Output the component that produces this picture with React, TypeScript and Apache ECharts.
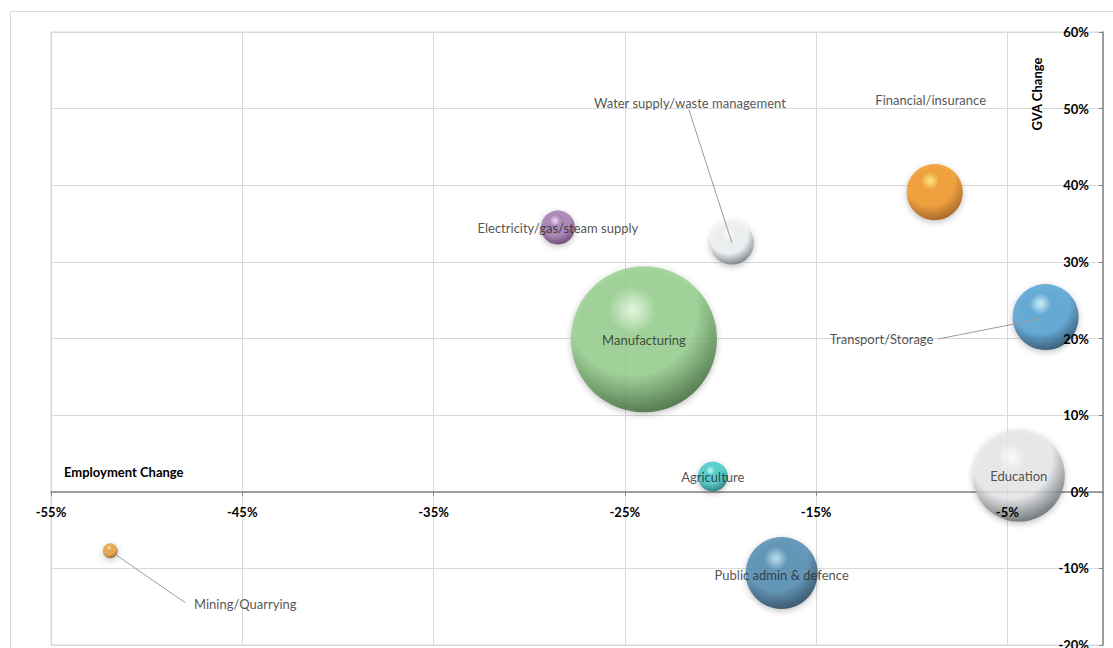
import React, { useEffect, useRef } from "react";
import * as echarts from "echarts";

// ---- data ----
const sectors = [
  "Mining/Quarrying",
  "Electricity/gas/steam supply",
  "Water supply/waste management",
  "Financial/insurance",
  "Manufacturing",
  "Transport/Storage",
  "Agriculture",
  "Education",
  "Public admin & defence",
];
const employmentChange = [-51.9, -28.5, -19.4, -8.8, -24.0, -3.0, -20.4, -4.4, -16.8];
const gvaChange = [-7.7, 34.5, 32.5, 39.1, 19.9, 22.8, 2.0, 2.1, -10.6];
const bubbleSize = [56, 290, 480, 790, 5330, 1090, 225, 2120, 1300];

const xMin = -55;
const xMax = 0;
const xStep = 10;
const yMin = -20;
const yMax = 60;
const yStep = 10;

// ---- styling / layout (not data) ----
const palette: [string, string, string][] = [
  ["#FFE9B5", "#E39B36", "#7E4A08"],
  ["#F3DEF8", "#A075AE", "#4A2756"],
  ["#FFFFFF", "#EEF1F3", "#5F6870"],
  ["#FFEA70", "#F2931D", "#8E4702"],
  ["#E6FADF", "#92CE8A", "#2F5A29"],
  ["#C8F3FF", "#4D9FD2", "#143956"],
  ["#C6FCF8", "#3CC6C6", "#0A5F5F"],
  ["#FFFFFF", "#E6E8EA", "#50555A"],
  ["#B6DFF5", "#4A87AF", "#13344C"],
];
// label centre offsets from bubble centre (px)
const labelOffsets: [number, number][] = [
  [135, 53],
  [0, 1],
  [-42, -140],
  [-4, -92],
  [0, 1],
  [-164, 22],
  [0, 1],
  [0, 0],
  [0, 2],
];
// leader lines: [startDx, startDy, endDx, endDy] relative to bubble centre, or null
const leaders: ([number, number, number, number] | null)[] = [
  [4, 3, 75, 52],
  null,
  [0, 0, -43, -133],
  null,
  null,
  [-6, 2, -108, 22],
  null,
  null,
  null,
];

const MAX_DIAM = 146;
const FONT = "Lato, 'Noto Sans', sans-serif";
const H = 648;
const GRID = { left: 51, right: 10, top: 32, bottom: 3 };

export default function App() {
  const ref = useRef<HTMLDivElement>(null);
  useEffect(() => {
    if (!ref.current) return;
    const chart = echarts.init(ref.current, undefined, { renderer: "svg" });
    const maxSize = Math.max(...bubbleSize);
    const shift = -xMin; // axis runs in shifted space so ticks start at -55

    // upper grid spans yMax..0 so its bottom edge sits on the zero line
    const plotH = H - GRID.top - GRID.bottom;
    const zeroY = GRID.top + (plotH * yMax) / (yMax - yMin);
    const upperBottom = H - zeroY;

    const data = sectors.map((name, i) => {
      const [hi, base, dark] = palette[i];
      return {
        name,
        value: [employmentChange[i] + shift, gvaChange[i], bubbleSize[i]],
        itemStyle: {
          color: new echarts.graphic.RadialGradient(0.42, 0.3, 0.74, [
            { offset: 0, color: hi },
            { offset: 0.22, color: base },
            { offset: 0.6, color: base },
            { offset: 1, color: dark },
          ]),
          shadowBlur: 6,
          shadowColor: "rgba(0,0,0,0.3)",
          shadowOffsetY: 2,
        },
      };
    });

    const leaderData = sectors.map((name, i) => ({
      name,
      value: [employmentChange[i] + shift, gvaChange[i], i],
    }));

    const labelFmt = (v: number) => `${Math.round(v - shift)}%`;
    const boldLabel = {
      color: "#000",
      fontWeight: "bold",
      fontSize: 13,
      fontFamily: FONT,
    };

    chart.setOption({
      animation: false,
      backgroundColor: "#ffffff",
      grid: [
        {
          ...GRID,
          show: true,
          borderColor: "#D9D9D9",
          borderWidth: 1,
          containLabel: false,
          outerBoundsMode: "none",
        },
        {
          left: GRID.left,
          right: GRID.right,
          top: GRID.top,
          bottom: upperBottom,
          show: false,
          containLabel: false,
          outerBoundsMode: "none",
        },
      ],
      xAxis: [
        {
          type: "value",
          gridIndex: 0,
          min: xMin + shift,
          max: xMax + shift,
          interval: xStep,
          position: "bottom",
          z: 0,
          axisLine: { onZero: true, lineStyle: { color: "#868686", width: 1.5 } },
          axisTick: { show: true, length: 4, lineStyle: { color: "#868686" } },
          axisLabel: { show: false },
          splitLine: { show: true, lineStyle: { color: "#D9D9D9", width: 1 } },
        },
        {
          type: "value",
          gridIndex: 1,
          min: xMin + shift,
          max: xMax + shift,
          interval: xStep,
          position: "bottom",
          z: 10,
          axisLine: { show: false, onZero: false },
          axisTick: { show: false },
          splitLine: { show: false },
          axisLabel: {
            show: true,
            showMaxLabel: false,
            margin: 14,
            formatter: labelFmt,
            ...boldLabel,
          },
        },
      ],
      yAxis: [
        {
          type: "value",
          gridIndex: 0,
          min: yMin,
          max: yMax,
          interval: yStep,
          position: "right",
          z: 0,
          axisLine: { show: true, onZero: false, lineStyle: { color: "#868686", width: 1.5 } },
          axisTick: { show: true, inside: true, length: 4, lineStyle: { color: "#868686" } },
          axisLabel: { show: false },
          splitLine: { show: true, lineStyle: { color: "#D9D9D9", width: 1 } },
        },
        {
          type: "value",
          gridIndex: 0,
          min: yMin,
          max: yMax,
          interval: yStep,
          position: "right",
          z: 10,
          axisLine: { show: false, onZero: false },
          axisTick: { show: false },
          splitLine: { show: false },
          axisLabel: {
            show: true,
            inside: true,
            margin: 14,
            formatter: (v: number) => `${v}%`,
            ...boldLabel,
          },
        },
        {
          type: "value",
          gridIndex: 1,
          min: 0,
          max: yMax,
          show: false,
        },
      ],
      graphic: [
        {
          type: "rect",
          silent: true,
          z: -10,
          shape: { x: 10.5, y: 11.5, width: 1200, height: 700 },
          style: { fill: "none", stroke: "#D9D9D9", lineWidth: 1 },
        },
        {
          type: "text",
          left: 64,
          top: 465,
          z: 10,
          style: {
            text: "Employment Change",
            fill: "#000",
            font: `bold 13px ${FONT}`,
          },
        },
        {
          type: "text",
          x: 1037,
          y: 94,
          rotation: Math.PI / 2,
          z: 10,
          style: {
            text: "GVA Change",
            fill: "#000",
            font: `bold 13px ${FONT}`,
            align: "center",
            verticalAlign: "middle",
          },
        },
      ],
      series: [
        {
          type: "scatter",
          xAxisIndex: 0,
          yAxisIndex: 0,
          z: 5,
          symbol: "circle",
          symbolSize: (val: number[]) => MAX_DIAM * Math.sqrt(val[2] / maxSize),
          data,
          label: {
            show: true,
            position: "inside",
            formatter: "{b}",
            color: "#262626",
            fontSize: 13,
            fontFamily: FONT,
          },
          labelLayout: (params: any) => {
            const o = labelOffsets[params.dataIndex] || [0, 0];
            return { dx: o[0], dy: o[1] };
          },
          emphasis: { disabled: true },
        },
        {
          type: "custom",
          xAxisIndex: 0,
          yAxisIndex: 0,
          z: 6,
          silent: true,
          data: leaderData,
          renderItem: (params: any, api: any) => {
            const idx = api.value(2);
            const ld = leaders[idx];
            if (!ld) return null;
            const c = api.coord([api.value(0), api.value(1)]);
            return {
              type: "line",
              shape: {
                x1: c[0] + ld[0],
                y1: c[1] + ld[1],
                x2: c[0] + ld[2],
                y2: c[1] + ld[3],
              },
              style: { stroke: "#9C9C9C", lineWidth: 1 },
            };
          },
        },
      ],
    });
    return () => chart.dispose();
  }, []);

  return (
    <div
      ref={ref}
      style={{ position: "fixed", left: 0, top: 0, width: 1113, height: H, background: "#fff" }}
    />
  );
}
